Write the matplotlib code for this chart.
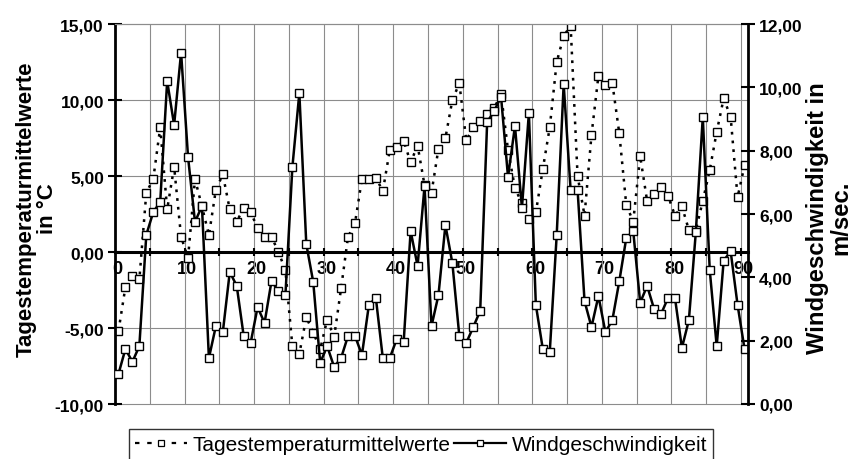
import numpy as np
import matplotlib
matplotlib.use("Agg")
import matplotlib.pyplot as plt
from matplotlib.lines import Line2D

plt.rcParams['font.family'] = ['Liberation Sans', 'DejaVu Sans']

days = np.arange(0, 91)
tempMean = [-5.2, -2.3, -1.6, -1.8, 3.9, 4.8, 8.2, 2.8, 5.6, 1.0,
            -0.4, 4.8, 3.0, 1.1, 4.1, 5.1, 2.8, 2.0, 2.9, 2.6,
            1.6, 1.0, 1.0, 0.0, -1.2, -6.2, -6.7, -4.3, -5.3, -6.4,
            -4.45, -5.6, -2.4, 1.0, 1.9, 4.8, 4.8, 4.9, 4.0, 6.7,
            6.9, 7.3, 5.9, 7.0, 4.4, 3.9, 6.8, 7.5, 10.0, 11.1,
            7.35, 8.2, 8.6, 9.1, 9.45, 10.4, 6.7, 4.2, 3.2, 2.2,
            2.6, 5.45, 8.2, 12.5, 14.2, 14.9, 5.0, 2.4, 7.7, 11.6,
            11.0, 11.1, 7.8, 3.1, 2.0, 6.3, 3.35, 3.8, 4.3, 3.7,
            2.4, 3.0, 1.45, 1.45, 3.35, 5.4, 7.9, 10.1, 8.9, 3.6,
            5.7]
windSpeed = [0.95, 1.74, 1.33, 1.83, 5.34, 6.06, 6.38, 10.2, 8.81, 11.1,
             7.8, 5.75, 6.25, 1.45, 2.46, 2.27, 4.17, 3.73, 2.15, 1.93,
             3.06, 2.56, 3.88, 3.57, 3.44, 7.48, 9.82, 5.05, 3.85, 1.3,
             1.83, 1.17, 1.45, 2.15, 2.15, 1.55, 3.13, 3.35, 1.45, 1.45,
             2.05, 1.96, 5.46, 4.36, 6.88, 2.46, 3.44, 5.65, 4.45, 2.15,
             1.93, 2.43, 2.94, 8.9, 9.25, 9.7, 7.17, 8.78, 6.19, 9.19,
             3.13, 1.74, 1.64, 5.34, 10.1, 6.76, 6.76, 3.25, 2.43, 3.41,
             2.27, 2.65, 3.88, 5.24, 5.46, 3.2, 3.73, 3.0, 2.84, 3.35,
             3.35, 1.77, 2.65, 5.43, 9.06, 4.23, 1.83, 4.52, 4.83, 3.13,
             1.74]

tempTicks = [-10, -5, 0, 5, 10, 15]
tempTickLabels = ["-10,00", "-5,00", "0,00", "5,00", "10,00", "15,00"]
windTicks = [0, 2, 4, 6, 8, 10, 12]
windTickLabels = ["0,00", "2,00", "4,00", "6,00", "8,00", "10,00", "12,00"]
dayTicks = [0, 10, 20, 30, 40, 50, 60, 70, 80, 90]
dayTickLabels = ["0", "10", "20", "30", "40", "50", "60", "70", "80", "90"]

W, H = 851, 460
fig = plt.figure(figsize=(W / 100, H / 100), dpi=100)
ax = fig.add_axes([115 / W, 1 - 405 / H, 633 / W, 380 / H])
ax2 = ax.twinx()

# categories sit in the middle of their slot
xPos = days + 0.5
tempStyle = dict(color='black', lw=1.8, ls=(0, (1.1, 2.4)), marker='s', ms=5.8,
                 mfc='white', mec='black', mew=1.0)
windStyle = dict(color='black', lw=1.8, ls='-', marker='s', ms=5.8,
                 mfc='white', mec='black', mew=1.0)
ax.plot(xPos, tempMean, **tempStyle)
ax2.plot(xPos, windSpeed, **windStyle)

gridColor = '#8c8c8c'
ax.set_xlim(0, 91)
ax.set_ylim(-10, 15)
ax2.set_ylim(0, 12)

ax.spines['bottom'].set_position(('data', 0))
ax.spines['bottom'].set_linewidth(2.2)
ax.spines['left'].set_linewidth(2.0)
ax.spines['top'].set_color(gridColor)
ax.spines['top'].set_linewidth(0.8)
ax.spines['right'].set_visible(False)
for side in ['top', 'bottom', 'left']:
    ax2.spines[side].set_visible(False)
ax2.spines['right'].set_linewidth(2.0)

ax.set_yticks(tempTicks, tempTickLabels, fontweight='bold', fontsize=12.5)
ax.tick_params(axis='y', direction='inout', length=10, width=1.5, pad=3)
ax2.set_yticks(windTicks, windTickLabels, fontweight='bold', fontsize=12.5)
ax2.tick_params(axis='y', direction='inout', length=10, width=1.5, pad=3)

ax.set_xticks(np.array(dayTicks) + 0.4, dayTickLabels, fontweight='bold', fontsize=13)
ax.tick_params(axis='x', which='major', length=0, pad=6)
ax.set_xticks(np.arange(5, 91, 5), minor=True)
ax.tick_params(axis='x', which='minor', direction='inout', length=6, width=1.5)

ax.grid(True, axis='x', which='minor', color=gridColor, lw=0.8)
ax.grid(True, axis='y', which='major', color=gridColor, lw=0.8)
ax.set_axisbelow(True)
for gl in ax.get_ygridlines():
    gl.set_clip_on(False)

fig.text(37 / W, 1 - 209 / H, "Tagestemperaturmittelwerte\nin °C", rotation=90,
         ha='center', va='center', fontsize=16, fontweight='bold',
         multialignment='center', linespacing=1.0)
fig.text(829 / W, 1 - 218 / H, "Windgeschwindigkeit in\nm/sec.", rotation=90,
         ha='center', va='center', fontsize=17.2, fontweight='bold',
         multialignment='center', linespacing=1.05)

handles = [Line2D([], [], color='black', lw=1.6, ls=(0, (2, 3.5)), marker='s', ms=4.5,
                  mfc='white', mec='black', mew=0.9),
           Line2D([], [], color='black', lw=1.6, ls='-', marker='s', ms=4.5,
                  mfc='white', mec='black', mew=0.9)]
leg = fig.legend(handles, ["Tagestemperaturmittelwerte", "Windgeschwindigkeit"],
                 loc='upper center', bbox_to_anchor=(421 / W, 1 - 430 / H), ncol=2,
                 frameon=True, fancybox=False, edgecolor='black', fontsize=15,
                 handlelength=2.5, columnspacing=0.2, handletextpad=0.25,
                 borderpad=0.3, borderaxespad=0)
leg.get_frame().set_linewidth(1.0)

plt.savefig("out.png", dpi=100)
plt.close()
